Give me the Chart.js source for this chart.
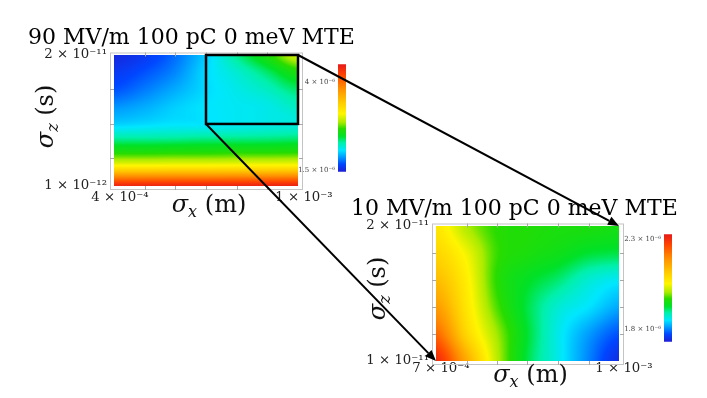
<!DOCTYPE html>
<html>
<head>
<meta charset="utf-8">
<script src="https://cdn.jsdelivr.net/npm/chart.js@4.4.1/dist/chart.umd.min.js"></script>
<style>
  html, body { margin: 0; padding: 0; background: #fff; }
  #wrap { position: relative; width: 707px; height: 398px; overflow: hidden; background: #fff; }
  #wrap canvas { position: absolute; }
</style>
</head>
<body>
<div id="wrap">
  <canvas id="heat90" width="365" height="225" style="left:0px;top:0px"></canvas>
  <canvas id="heat10" width="367" height="228" style="left:340px;top:170px"></canvas>
  <canvas id="bar90" width="58" height="122" style="left:288px;top:57px"></canvas>
  <canvas id="bar10" width="58" height="122" style="left:614px;top:227px"></canvas>
  <canvas id="arrows" width="707" height="398" style="left:0px;top:0px;pointer-events:none"></canvas>
</div>
<script>
// --- datos: sigma_x (m), sigma_z (s), emitancia en unidades de 1e-6 ---
const title90 = '90 MV/m 100 pC 0 meV MTE';
const sigmaX90 = [4e-4, 5e-4, 6e-4, 7e-4, 8e-4, 9e-4, 1e-3];
const sigmaZ90 = [1e-12, 2e-12, 3e-12, 4e-12, 5e-12, 6e-12, 8e-12, 1e-11, 1.25e-11, 1.5e-11, 1.75e-11, 2e-11];
// una fila por cada sigmaZ90 (de abajo hacia arriba)
const emit90 = [
  [4.40, 4.41, 4.41, 4.42, 4.42, 4.43, 4.43],
  [4.00, 4.00, 4.01, 4.01, 4.02, 4.02, 4.03],
  [3.51, 3.51, 3.52, 3.52, 3.53, 3.53, 3.54],
  [3.08, 3.08, 3.09, 3.09, 3.10, 3.10, 3.11],
  [2.81, 2.81, 2.82, 2.82, 2.83, 2.83, 2.84],
  [2.59, 2.59, 2.60, 2.60, 2.61, 2.61, 2.62],
  [2.27, 2.27, 2.28, 2.30, 2.30, 2.31, 2.33],
  [1.99, 2.02, 2.05, 2.05, 2.08, 2.11, 2.14],
  [1.84, 1.90, 1.99, 2.05, 2.08, 2.11, 2.21],
  [1.68, 1.78, 1.90, 2.02, 2.11, 2.21, 2.36],
  [1.59, 1.68, 1.81, 2.02, 2.17, 2.36, 2.60],
  [1.50, 1.59, 1.75, 1.99, 2.30, 2.60, 2.97]
];
const range90 = [1.44, 4.5];
const cbTicks90 = [1.5, 4];
const minorX90 = [5e-4, 6e-4, 7e-4, 8e-4, 9e-4];
const minorZ90 = [5e-12, 1e-11, 1.5e-11];

const title10 = '10 MV/m 100 pC 0 meV MTE';
const sigmaX10 = [7e-4, 7.5e-4, 8e-4, 8.5e-4, 9e-4, 9.5e-4, 1e-3];
const sigmaZ10 = [1e-11, 1.2e-11, 1.4e-11, 1.6e-11, 1.8e-11, 2e-11];
const emit10 = [
  [2.309, 2.160, 2.016, 1.920, 1.861, 1.801, 1.747],
  [2.237, 2.100, 2.004, 1.926, 1.861, 1.813, 1.777],
  [2.178, 2.076, 1.980, 1.920, 1.873, 1.849, 1.819],
  [2.136, 2.064, 1.968, 1.932, 1.908, 1.873, 1.855],
  [2.100, 2.046, 1.974, 1.956, 1.944, 1.926, 1.920],
  [2.076, 2.010, 1.968, 1.962, 1.956, 1.956, 1.950]
];
const range10 = [1.73, 2.33];
const cbTicks10 = [1.8, 2.3];
const minorX10 = [7.5e-4, 8e-4, 8.5e-4, 9e-4, 9.5e-4];
const minorZ10 = [1.2e-11, 1.4e-11, 1.6e-11, 1.8e-11];

// recuadro del zoom (en coordenadas de la grafica de 90 MV/m)
const zoomX = [7e-4, 1e-3];
const zoomZ = [1e-11, 2e-11];

const SERIF = '"DejaVu Serif", serif';
const TICK_SIZE = 13.3;

// tamaño de letra del titulo para que ocupe ~327 px como en la figura
function fitSize(text, target) {
  const c = document.createElement('canvas').getContext('2d');
  c.font = '100px ' + SERIF;
  return 100 * target / c.measureText(text).width;
}
const TITLE_SIZE = fitSize(title90, 327);

// mapa de color tipo arcoiris
const cmapStops = [
  [0.00, [30, 30, 210]],
  [0.07, [0, 70, 255]],
  [0.14, [0, 160, 255]],
  [0.20, [0, 230, 255]],
  [0.27, [0, 240, 170]],
  [0.33, [0, 225, 40]],
  [0.40, [40, 220, 0]],
  [0.46, [170, 235, 0]],
  [0.54, [255, 245, 0]],
  [0.65, [255, 200, 0]],
  [0.78, [255, 140, 0]],
  [0.90, [255, 70, 0]],
  [1.00, [230, 25, 25]]
];
function colour(t) {
  t = Math.min(1, Math.max(0, t));
  for (let k = 0; k < cmapStops.length - 1; k++) {
    const [t0, c0] = cmapStops[k], [t1, c1] = cmapStops[k + 1];
    if (t <= t1) {
      const f = (t - t0) / (t1 - t0);
      return [0, 1, 2].map(n => Math.round(c0[n] + (c1[n] - c0[n]) * f));
    }
  }
  return cmapStops[cmapStops.length - 1][1];
}

const SUP = {'-': '⁻', '0': '⁰', '1': '¹', '2': '²', '3': '³', '4': '⁴', '5': '⁵', '6': '⁶', '7': '⁷', '8': '⁸', '9': '⁹'};
function sup(s) { return String(s).split('').map(ch => SUP[ch] || ch).join(''); }
function sci(v) {
  const e = Math.floor(Math.log10(v) + 1e-9);
  const m = Math.round(v / Math.pow(10, e) * 10) / 10;
  return m + ' × 10' + sup(e);
}

// interpolacion suave (Catmull-Rom en espacio de indices) sobre la malla
function fracIndex(arr, v) {
  let i = 0;
  while (i < arr.length - 2 && v > arr[i + 1]) i++;
  const f = Math.min(1, Math.max(0, (v - arr[i]) / (arr[i + 1] - arr[i])));
  return [i, f];
}
function cubic(p0, p1, p2, p3, t) {
  const v = 0.5 * (2 * p1 + (-p0 + p2) * t + (2 * p0 - 5 * p1 + 4 * p2 - p3) * t * t + (-p0 + 3 * p1 - 3 * p2 + p3) * t * t * t);
  return Math.min(Math.max(p1, p2) + 0.02 * Math.abs(p2 - p1) + 1e-9, Math.max(Math.min(p1, p2) - 0.02 * Math.abs(p2 - p1), v));
}
function rowAt(row, i, f) {
  const n = row.length;
  const g = k => row[Math.min(n - 1, Math.max(0, k))];
  return cubic(g(i - 1), g(i), g(i + 1), g(i + 2), f);
}
function interp(xs, zs, vals, xv, zv) {
  const [i, fx] = fracIndex(xs, xv), [j, fz] = fracIndex(zs, zv);
  const n = vals.length;
  const r = k => rowAt(vals[Math.min(n - 1, Math.max(0, k))], i, fx);
  return cubic(r(j - 1), r(j), r(j + 1), r(j + 2), fz);
}

// texto "σ_sub (unidad)"; (x, y) = punto sobre la linea base, centrado
function drawSigma(ctx, x, y, sub, unit, rotate) {
  ctx.save();
  ctx.translate(x, y);
  if (rotate) ctx.rotate(-Math.PI / 2);
  const fBig = 'italic 24px ' + SERIF, fSub = 'italic 16px ' + SERIF, fReg = '24px ' + SERIF;
  ctx.font = fBig; const w1 = ctx.measureText('σ').width;
  ctx.font = fSub; const w2 = ctx.measureText(sub).width;
  ctx.font = fReg; const w3 = ctx.measureText(' ' + unit).width;
  let px = -(w1 + w2 + w3) / 2;
  ctx.fillStyle = '#111';
  ctx.textBaseline = 'alphabetic';
  ctx.textAlign = 'left';
  ctx.font = fBig; ctx.fillText('σ', px, 0); px += w1;
  ctx.font = fSub; ctx.fillText(sub, px, 5); px += w2;
  ctx.font = fReg; ctx.fillText(' ' + unit, px, 0);
  ctx.restore();
}

function heatChart(id, o) {
  const heat = {
    id: 'heat',
    beforeDatasetsDraw(chart) {
      const {ctx, chartArea: a, scales: {x, y}} = chart;
      const w = Math.round(a.right - a.left), h = Math.round(a.bottom - a.top);
      const off = document.createElement('canvas');
      off.width = w; off.height = h;
      const octx = off.getContext('2d');
      const img = octx.createImageData(w, h);
      for (let j = 0; j < h; j++) {
        const zv = y.getValueForPixel(a.top + j + 0.5);
        for (let i = 0; i < w; i++) {
          const xv = x.getValueForPixel(a.left + i + 0.5);
          const v = interp(o.xs, o.zs, o.vals, xv, zv);
          const c = colour((v - o.range[0]) / (o.range[1] - o.range[0]));
          const p = (j * w + i) * 4;
          img.data[p] = c[0]; img.data[p + 1] = c[1]; img.data[p + 2] = c[2]; img.data[p + 3] = 255;
        }
      }
      octx.putImageData(img, 0, 0);
      ctx.drawImage(off, a.left, a.top);
    },
    afterDraw(chart) {
      const {ctx, chartArea: a, scales: {x, y}} = chart;
      // marco gris con marcas interiores
      const L = a.left - 4, R = a.right + 4, T = a.top - 2.5, B = a.bottom + 3;
      ctx.save();
      ctx.strokeStyle = '#c4c4c4';
      ctx.lineWidth = 1;
      ctx.strokeRect(L + 0.5, T + 0.5, R - L, B - T);
      ctx.strokeStyle = '#a8a8a8';
      ctx.beginPath();
      o.minorX.forEach(v => {
        const px = Math.round(x.getPixelForValue(v)) + 0.5;
        ctx.moveTo(px, T); ctx.lineTo(px, T + 4);
        ctx.moveTo(px, B + 1); ctx.lineTo(px, B - 3);
      });
      o.minorZ.forEach(v => {
        const py = Math.round(y.getPixelForValue(v)) + 0.5;
        ctx.moveTo(L, py); ctx.lineTo(L + 4, py);
        ctx.moveTo(R + 1, py); ctx.lineTo(R - 3, py);
      });
      ctx.stroke();
      // recuadro del zoom
      if (o.box) {
        const x0 = x.getPixelForValue(o.box.x[0]), x1 = x.getPixelForValue(o.box.x[1]);
        const y0 = y.getPixelForValue(o.box.z[1]), y1 = y.getPixelForValue(o.box.z[0]);
        ctx.strokeStyle = '#000';
        ctx.lineWidth = 2.5;
        ctx.strokeRect(x0, y0, x1 - x0, y1 - y0);
      }
      ctx.restore();
      // titulos de ejes
      drawSigma(ctx, (a.left + a.right) / 2 + o.xt[0], a.bottom + o.xt[1], 'x', '(m)', false);
      drawSigma(ctx, a.left + o.yt[0], (a.top + a.bottom) / 2 + o.yt[1], 'z', '(s)', true);
    }
  };
  const titleH = TITLE_SIZE * 1.2 + 4;
  return new Chart(document.getElementById(id), {
    type: 'scatter',
    data: { datasets: [] },
    options: {
      responsive: false,
      animation: false,
      layout: { padding: { left: o.pad.left, right: o.pad.right, top: o.areaTop - titleH, bottom: o.pad.bottom } },
      plugins: {
        legend: { display: false },
        tooltip: { enabled: false },
        title: {
          display: true, text: o.title, align: 'start', color: '#000',
          font: { family: SERIF, size: TITLE_SIZE, weight: 'normal', lineHeight: 1.2 },
          padding: { top: 0, bottom: 4 }
        }
      },
      scales: {
        x: {
          type: 'linear', min: o.xs[0], max: o.xs[o.xs.length - 1],
          afterBuildTicks: s => { s.ticks = [{ value: s.min }, { value: s.max }]; },
          afterFit: s => { s.height = 34; },
          grid: { display: false, drawTicks: false }, border: { display: false },
          ticks: { callback: v => sci(v), font: { family: SERIF, size: TICK_SIZE }, color: '#222', padding: o.xpad, labelOffset: o.xoff, maxRotation: 0, autoSkip: false }
        },
        y: {
          type: 'linear', min: o.zs[0], max: o.zs[o.zs.length - 1],
          afterBuildTicks: s => { s.ticks = [{ value: s.min }, { value: s.max }]; },
          afterFit: s => { s.width = o.yw; },
          grid: { display: false, drawTicks: false }, border: { display: false },
          ticks: { callback: v => sci(v), font: { family: SERIF, size: TICK_SIZE }, color: '#222', padding: 7, autoSkip: false }
        },
        // espacio vacio a la derecha (reservado para la barra de color)
        yRight: {
          type: 'linear', position: 'right', min: 0, max: 1,
          afterFit: s => { s.width = o.rightSpace; },
          ticks: { display: false }, grid: { display: false, drawTicks: false }, border: { display: false }
        }
      }
    },
    plugins: [heat]
  });
}

function colourBar(id, range, ticks) {
  return new Chart(document.getElementById(id), {
    type: 'bar',
    data: {
      labels: [''],
      datasets: [{
        data: [range],
        borderWidth: 0,
        barPercentage: 1,
        categoryPercentage: 1,
        backgroundColor: c => {
          const ch = c.chart;
          if (!ch.chartArea) return '#888';
          const sy = ch.scales.y;
          const g = ch.ctx.createLinearGradient(0, sy.getPixelForValue(range[0]), 0, sy.getPixelForValue(range[1]));
          cmapStops.forEach(([t, col]) => g.addColorStop(t, 'rgb(' + col.join(',') + ')'));
          return g;
        }
      }]
    },
    options: {
      responsive: false,
      animation: false,
      layout: { padding: { top: 6, bottom: 6, left: 0, right: 0 } },
      plugins: { legend: { display: false }, tooltip: { enabled: false } },
      scales: {
        x: { display: false },
        y: {
          min: range[0], max: range[1], position: 'left',
          grid: { display: false, drawTicks: false }, border: { display: false },
          afterBuildTicks: s => { s.ticks = ticks.map(v => ({ value: v })); },
          afterFit: s => { s.width = 50; },
          ticks: { callback: v => v + ' × 10' + sup(-6), font: { family: SERIF, size: 7 }, color: '#444', padding: 3 }
        }
      }
    }
  });
}

const chart90 = heatChart('heat90', {
  title: title90, xs: sigmaX90, zs: sigmaZ90, vals: emit90, range: range90,
  minorX: minorX90, minorZ: minorZ90, box: { x: zoomX, z: zoomZ },
  pad: { left: 28, right: 7, bottom: 5 }, rightSpace: 60, areaTop: 55, yw: 86,
  xpad: 4, xoff: 6, xt: [3, 26], yt: [-61, -4]
});
const chart10 = heatChart('heat10', {
  title: title10, xs: sigmaX10, zs: sigmaZ10, vals: emit10, range: range10,
  minorX: minorX10, minorZ: minorZ10, box: null,
  pad: { left: 11, right: 4, bottom: 3 }, rightSpace: 84, areaTop: 56, yw: 85,
  xpad: 0, xoff: 5, xt: [3, 21], yt: [-51, -5]
});
colourBar('bar90', range90, cbTicks90);
colourBar('bar10', range10, cbTicks10);

// flechas del recuadro a la grafica ampliada
function pix(chart, xv, zv) {
  const cv = chart.canvas;
  return [cv.offsetLeft + chart.scales.x.getPixelForValue(xv), cv.offsetTop + chart.scales.y.getPixelForValue(zv)];
}
function arrow(ctx, a, b) {
  const ang = Math.atan2(b[1] - a[1], b[0] - a[0]);
  const L = 11, W = 4.5;
  const bx = b[0] - L * Math.cos(ang), by = b[1] - L * Math.sin(ang);
  ctx.beginPath(); ctx.moveTo(a[0], a[1]); ctx.lineTo(bx, by); ctx.stroke();
  ctx.beginPath(); ctx.moveTo(b[0], b[1]);
  ctx.lineTo(bx + W * Math.sin(ang), by - W * Math.cos(ang));
  ctx.lineTo(bx - W * Math.sin(ang), by + W * Math.cos(ang));
  ctx.closePath(); ctx.fill();
}
const actx = document.getElementById('arrows').getContext('2d');
actx.strokeStyle = '#000';
actx.fillStyle = '#000';
actx.lineWidth = 2;
arrow(actx, pix(chart90, zoomX[1], zoomZ[1]), pix(chart10, sigmaX10[sigmaX10.length - 1], sigmaZ10[sigmaZ10.length - 1]));
arrow(actx, pix(chart90, zoomX[0], zoomZ[0]), pix(chart10, sigmaX10[0], sigmaZ10[0]));
</script>
</body>
</html>
